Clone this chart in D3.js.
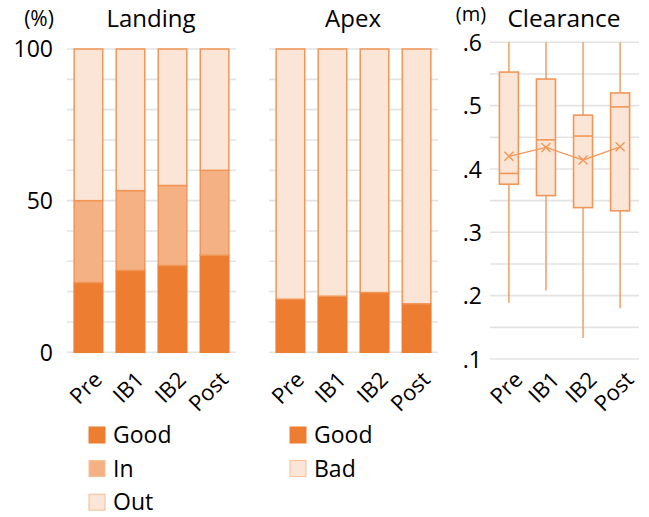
<!DOCTYPE html>
<html>
<head>
<meta charset="utf-8">
<script src="https://cdn.jsdelivr.net/npm/d3@7"></script>
<style>
  html, body { margin: 0; padding: 0; background: #fff; }
  svg { display: block; }
  text { font-family: "Open Sans", "Noto Sans", sans-serif; fill: #000; }
</style>
</head>
<body>
<svg id="chart" width="649" height="517"></svg>
<script>
// ---- data ----
const categories = ["Pre", "IB1", "IB2", "Post"];
// Landing (% stacked)
const landingGood = [23, 27, 28.6, 32];
const landingIn   = [27, 26.3, 26.4, 28];
const landingOut  = [50, 46.7, 45, 40];
// Apex (% stacked)
const apexGood = [17.5, 18.5, 19.7, 16];
const apexBad  = [82.5, 81.5, 80.3, 84];
// Clearance (m) box plot stats
const clrMin    = [0.189, 0.208, 0.133, 0.180];
const clrQ1     = [0.376, 0.358, 0.339, 0.334];
const clrMedian = [0.393, 0.446, 0.452, 0.498];
const clrQ3     = [0.553, 0.542, 0.485, 0.520];
const clrMax    = [0.6, 0.6, 0.6, 0.6];
const clrMean   = [0.420, 0.434, 0.414, 0.435];
const pctTicks = [0, 50, 100];
const pctTickLabels = ["0", "50", "100"];
const clrTicks = [0.1, 0.2, 0.3, 0.4, 0.5, 0.6];
const clrTickLabels = [".1", ".2", ".3", ".4", ".5", ".6"];
const landingLegend = ["Good", "In", "Out"];
const apexLegend = ["Good", "Bad"];

// ---- styles ----
const C_GOOD = "#ED7D31", C_IN = "#F4B183", C_OUT = "#FBE5D6";
const C_STROKE = "#F29657";
const C_GRID = "#e3e3e3";

const svg = d3.select("#chart");

const yPct = d3.scaleLinear().domain([0, 100]).range([352.3, 49]);
const yClr = d3.scaleLinear().domain([0.1, 0.6]).range([359, 42.3]);

function grid(g, x0, x1, y, vals) {
  g.selectAll(null).data(vals).enter().append("line")
    .attr("x1", x0).attr("x2", x1)
    .attr("y1", d => y(d)).attr("y2", d => y(d))
    .attr("stroke", C_GRID).attr("stroke-width", 1.6);
}

function xLabels(g, x, offset) {
  g.selectAll(null).data(categories).enter().append("text")
    .attr("transform", d => `translate(${x(d) + offset},381) rotate(-45)`)
    .attr("text-anchor", "end")
    .attr("font-size", 22)
    .text(d => d);
}

function stackedPanel(x0, x1, series, colors, titleText, titleX) {
  const g = svg.append("g");
  grid(g, x0, x1, yPct, d3.range(0, 101, 10));
  const x = d3.scaleBand().domain(categories).range([x0, x1]).paddingInner(0.32).paddingOuter(0.17);
  const rows = categories.map((c, i) => {
    const r = { cat: c };
    series.forEach((s, k) => r["s" + k] = s[i]);
    return r;
  });
  const keys = series.map((s, k) => "s" + k);
  const stack = d3.stack().keys(keys)(rows);
  stack.forEach((layer, k) => {
    g.selectAll(null).data(layer).enter().append("rect")
      .attr("x", d => x(d.data.cat))
      .attr("width", x.bandwidth())
      .attr("y", d => yPct(d[1]))
      .attr("height", d => yPct(d[0]) - yPct(d[1]))
      .attr("fill", colors[k])
      .attr("stroke", k === 0 ? colors[0] : C_STROKE)
      .attr("stroke-width", 1.5);
  });
  xLabels(g, d => x(d) + x.bandwidth() / 2, 15);
  g.append("text").attr("x", titleX).attr("y", 27).attr("text-anchor", "middle")
    .attr("font-size", 24).text(titleText);
  return g;
}

stackedPanel(67, 236, [landingGood, landingIn, landingOut], [C_GOOD, C_IN, C_OUT], "Landing", 151);
stackedPanel(269, 438, [apexGood, apexBad], [C_GOOD, C_OUT], "Apex", 353);

// Y axis labels for percent
svg.append("g").selectAll(null).data(pctTicks).enter().append("text")
  .attr("x", 53).attr("y", d => yPct(d)).attr("dy", "0.36em")
  .attr("text-anchor", "end").attr("font-size", 23)
  .text((d, i) => pctTickLabels[i]);
svg.append("text").attr("x", 39).attr("y", 26).attr("text-anchor", "middle")
  .attr("font-size", 21).text("(%)");

// ---- Clearance box plot ----
const gc = svg.append("g");
grid(gc, 490, 639, yClr, d3.range(0, 11).map(i => 0.1 + i * 0.05));
const xc = d3.scalePoint().domain(categories).range([490, 639]).padding(0.51);
const bw = 19;
categories.forEach((c, i) => {
  const cx = xc(c);
  // whiskers
  gc.append("line").attr("x1", cx).attr("x2", cx)
    .attr("y1", yClr(clrMax[i])).attr("y2", yClr(clrQ3[i]))
    .attr("stroke", C_STROKE).attr("stroke-width", 1.4);
  gc.append("line").attr("x1", cx).attr("x2", cx)
    .attr("y1", yClr(clrQ1[i])).attr("y2", yClr(clrMin[i]))
    .attr("stroke", C_STROKE).attr("stroke-width", 1.4);
  // box
  gc.append("rect").attr("x", cx - bw / 2).attr("width", bw)
    .attr("y", yClr(clrQ3[i])).attr("height", yClr(clrQ1[i]) - yClr(clrQ3[i]))
    .attr("fill", C_OUT).attr("stroke", C_STROKE).attr("stroke-width", 1.6);
  gc.append("line").attr("x1", cx - bw / 2).attr("x2", cx + bw / 2)
    .attr("y1", yClr(clrMedian[i])).attr("y2", yClr(clrMedian[i]))
    .attr("stroke", C_STROKE).attr("stroke-width", 1.6);
});
// mean line
gc.append("path")
  .attr("d", d3.line().x((d, i) => xc(categories[i])).y(d => yClr(d))(clrMean))
  .attr("fill", "none").attr("stroke", C_STROKE).attr("stroke-width", 1.4);
const m = 4.5;
categories.forEach((c, i) => {
  const cx = xc(c), cy = yClr(clrMean[i]);
  gc.append("path")
    .attr("d", `M${cx - m},${cy - m}L${cx + m},${cy + m}M${cx - m},${cy + m}L${cx + m},${cy - m}`)
    .attr("stroke", C_STROKE).attr("stroke-width", 1.4).attr("fill", "none");
});
gc.selectAll(null).data(clrTicks).enter().append("text")
  .attr("x", 482).attr("y", d => yClr(d)).attr("dy", "0.38em")
  .attr("text-anchor", "end").attr("font-size", 23)
  .text((d, i) => clrTickLabels[i]);
xLabels(gc, d => xc(d), 15);
gc.append("text").attr("x", 564).attr("y", 27).attr("text-anchor", "middle")
  .attr("font-size", 24.5).text("Clearance");
gc.append("text").attr("x", 471).attr("y", 21).attr("text-anchor", "middle")
  .attr("font-size", 20).text("(m)");

// ---- Legends ----
function legend(x0, labels, colors) {
  const g = svg.append("g");
  labels.forEach((l, i) => {
    const y = 427 + i * 33.6;
    g.append("rect").attr("x", x0).attr("y", y).attr("width", 16).attr("height", 16)
      .attr("fill", colors[i]).attr("stroke", i === 0 ? colors[0] : "#F6BE96").attr("stroke-width", 1);
    g.append("text").attr("x", x0 + 24).attr("y", y + 16).attr("font-size", 23).text(l);
  });
}
legend(89, landingLegend, [C_GOOD, C_IN, C_OUT]);
legend(290, apexLegend, [C_GOOD, C_OUT]);
</script>
</body>
</html>
